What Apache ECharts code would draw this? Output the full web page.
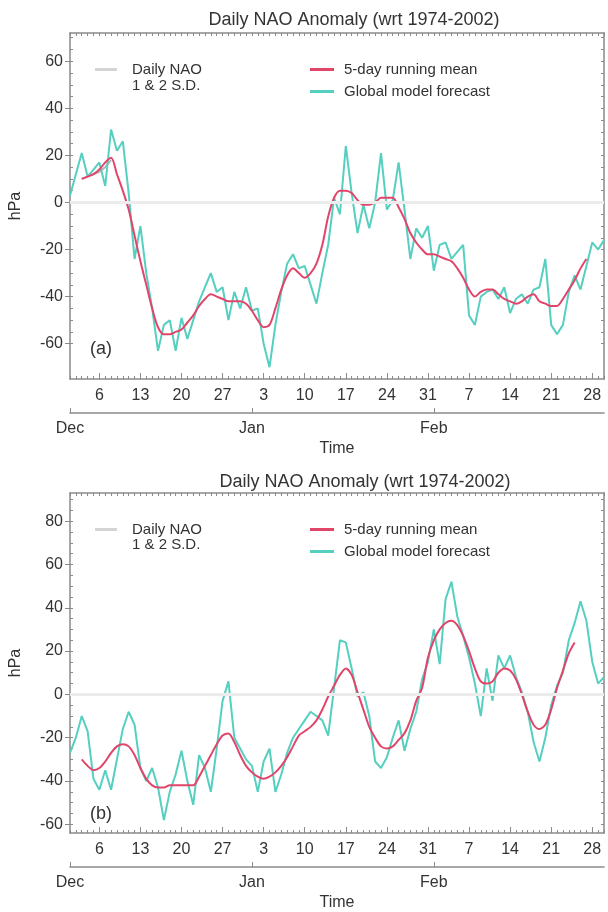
<!DOCTYPE html>
<html lang="en">
<head>
    <meta charset="UTF-8">
    <title>Daily NAO Anomaly</title>
    <script src="https://cdn.jsdelivr.net/npm/echarts@6.0.0/dist/echarts.min.js"></script>
    <style>
        body { margin: 0; padding: 0; background: #fff; }
        #chart { width: 608px; height: 912px; }
    </style>
</head>
<body>
    <div id="chart"></div>
    <script>
        // days from 1 Dec to 2 Mar
        const months = [['Dec', 31], ['Jan', 31], ['Feb', 28], ['Mar', 2]];
        const monthNames = ['Dec', 'Jan', 'Feb'];
        const yTicksA = [-60, -40, -20, 0, 20, 40, 60];
        const yTicksB = [-60, -40, -20, 0, 20, 40, 60, 80];

        // panel (a)
        const obsA = [null, null, 10, 11, 12, 13, 15, 18, null, null,
            null, null, null, null, null, null, null, null, null, null,
            null, null, null, null, null, null, null, null, null, null,
            null, null, null, null, null, null, null, null, null, null,
            null, null, null, null, null, null, null, null, null, null,
            null, null, null, null, null, null, null, null, null, null,
            null, null, null, null, null, null, null, null, null, null,
            null, null, null, null, null, null, null, null, null, null,
            null, null, null, null, null, null, null, null, null, null,
            null, null];
        const forecastA = [3, 12, 21, 11, 14, 17, 7, 31, 22, 26,
            4, -24, -10, -30, -45, -63, -52, -50, -63, -49,
            -58, -50, -42, -36, -30, -38, -36, -50, -38, -45,
            -36, -46, -45, -60, -70, -52, -38, -26, -22, -28,
            -27, -35, -43, -30, -18, 2, -5, 24, 4, -13,
            -1, -11, 0, 21, -3, 1, 17, -3, -24, -11,
            -15, -10, -29, -18, -17, -24, -21, -18, -48, -52,
            -40, -38, -37, -41, -36, -47, -41, -39, -43, -37,
            -36, -24, -52, -56, -52, -38, -31, -37, -27, -17,
            -20, -16];
        const meanA = [null, null, 10, 11, 12, 14, 17, 19, 12, 5,
            -3, -14, -25, -35, -45, -53, -56, -56, -55, -54,
            -51, -48, -44, -41, -39, -40, -41, -42, -42, -42,
            -43, -46, -50, -53, -52, -45, -37, -31, -28, -30,
            -32, -30, -26, -18, -6, 2, 5, 5, 4, 1,
            -1, -1, 0, 2, 2, 2, -2, -7, -13, -17,
            -20, -22, -22, -23, -24, -25, -28, -32, -37, -40,
            -38, -37, -37, -39, -41, -42, -43, -42, -40, -39,
            -42, -43, -44, -44, -41, -37, -33, -28, -24, null,
            null, null];

        // panel (b)
        const obsB = [];
        const forecastB = [-27, -20, -10, -17, -39, -44, -35, -44, -30, -16,
            -8, -14, -34, -40, -34, -43, -58, -45, -37, -26,
            -40, -51, -28, -34, -45, -25, -3, 6, -20, -25,
            -30, -33, -45, -31, -25, -45, -37, -27, -20, -16,
            -12, -8, -10, -12, -19, 3, 25, 24, 12, -1,
            1, -10, -31, -34, -29, -20, -12, -26, -16, -8,
            7, 15, 30, 14, 44, 52, 36, 27, 17, 5,
            -10, 12, -3, 18, 12, 18, 8, 1, -8, -22,
            -31, -20, -5, 4, 10, 25, 33, 43, 34, 15,
            5, 8];
        const meanB = [null, null, -30, -33, -35, -34, -31, -27, -24, -23,
            -24, -28, -34, -39, -42, -43, -43, -42, -42, -42,
            -42, -42, -38, -33, -28, -23, -19, -18, -22, -28,
            -33, -36, -38, -39, -38, -36, -33, -29, -24, -19,
            -17, -15, -12, -7, -1, 4, 9, 12, 9, 1,
            -7, -15, -20, -24, -25, -24, -21, -18, -12, -3,
            3, 17, 25, 30, 33, 34, 32, 27, 20, 12,
            6, 5, 6, 10, 12, 11, 7, 0, -8, -14,
            -16, -14, -7, 3, 11, 19, 24, null, null, null,
            null, null];

        const days = [];
        const monthStart = [];
        months.forEach(([m, n]) => {
            monthStart.push(days.length);
            for (let d = 1; d <= n; d++) days.push(m + ' ' + d);
        });

        const isWeek = (i) => (i - 5) % 7 === 0;
        const isMonth = (i) => monthStart.indexOf(i) >= 0 && i < 80;
        const every5 = (lo, hi) => { const a = []; for (let v = lo; v <= hi; v += 5) a.push(v); return a; };

        const axisColor = '#8a8a8a';
        const textColor = '#333';
        const font = 'Liberation Sans, Arial, sans-serif';
        const redColor = '#e2456a';
        const cyanColor = '#55cfc0';
        const greyColor = '#d4d4d4';

        const panels = [
            { top: 33, height: 346, min: -75, max: 72, ticks: yTicksA, obs: obsA, fc: forecastA, mean: meanA },
            { top: 493, height: 344, min: -64, max: 93, ticks: yTicksB, obs: obsB, fc: forecastB, mean: meanB }
        ];

        const grid = [], xAxis = [], yAxis = [], series = [];
        panels.forEach((p, g) => {
            grid.push({ left: 67, right: 4, top: p.top, height: p.height });
            const base = { type: 'category', gridIndex: g, data: days, boundaryGap: false };
            const line = { onZero: false, lineStyle: { color: axisColor, width: 1.5 } };
            // bottom, daily ticks + week labels
            xAxis.push(Object.assign({}, base, {
                position: 'bottom',
                axisLine: line,
                axisTick: { interval: 0, inside: true, length: 3, lineStyle: { color: axisColor } },
                axisLabel: {
                    interval: (i) => isWeek(i), margin: 9, fontSize: 16, color: textColor, fontFamily: font,
                    formatter: (v) => v.split(' ')[1]
                }
            }));
            // top frame
            xAxis.push(Object.assign({}, base, {
                position: 'top',
                axisLine: line,
                axisTick: { interval: 0, inside: true, length: 3, lineStyle: { color: axisColor } },
                axisLabel: { show: false }
            }));
            // longer weekly ticks
            xAxis.push(Object.assign({}, base, {
                position: 'bottom',
                axisLine: { show: false, onZero: false },
                axisTick: { interval: (i) => isWeek(i), inside: true, length: 6, lineStyle: { color: axisColor } },
                axisLabel: { show: false }
            }));
            // month axis
            xAxis.push(Object.assign({}, base, {
                position: 'bottom', offset: 34,
                axisLine: line,
                axisTick: { interval: (i) => isMonth(i), inside: true, length: 5, lineStyle: { color: axisColor } },
                axisLabel: {
                    interval: (i) => isMonth(i), margin: 8, fontSize: 16, color: textColor, fontFamily: font,
                    formatter: (v) => monthNames.indexOf(v.split(' ')[0]) >= 0 && v.split(' ')[1] === '1' ? v.split(' ')[0] : ''
                },
                name: 'Time', nameLocation: 'middle', nameGap: 28,
                nameTextStyle: { fontSize: 16, color: textColor, fontFamily: font }
            }));

            yAxis.push({
                type: 'value', gridIndex: g, min: p.min, max: p.max, position: 'left',
                splitLine: { show: false },
                axisLine: { show: true, onZero: false, lineStyle: { color: axisColor, width: 1.5 } },
                axisTick: { show: true, customValues: p.ticks, length: 5, lineStyle: { color: axisColor } },
                axisLabel: { customValues: p.ticks, margin: 7, fontSize: 16, color: textColor, fontFamily: font },
                name: 'hPa', nameLocation: 'middle', nameGap: 46, nameRotate: 90,
                nameTextStyle: { fontSize: 16, color: textColor, fontFamily: font }
            });
            yAxis.push({
                type: 'value', gridIndex: g, min: p.min, max: p.max, position: 'left',
                splitLine: { show: false }, axisLine: { show: false, onZero: false }, axisLabel: { show: false },
                axisTick: { show: true, inside: true, customValues: every5(-60, 90), length: 3, lineStyle: { color: axisColor } }
            });
            yAxis.push({
                type: 'value', gridIndex: g, min: p.min, max: p.max, position: 'right',
                splitLine: { show: false }, axisLabel: { show: false },
                axisLine: { show: true, onZero: false, lineStyle: { color: axisColor, width: 1.5 } },
                axisTick: { show: true, inside: true, customValues: every5(-60, 90), length: 3, lineStyle: { color: axisColor } }
            });

            const xi = g * 4, yi = g * 3;
            series.push({
                name: 'Daily NAO', type: 'line', xAxisIndex: xi, yAxisIndex: yi, data: p.obs,
                symbol: 'none', z: 1, lineStyle: { color: '#b5b5b5', width: 2 }, itemStyle: { color: greyColor },
                markLine: {
                    silent: true, symbol: 'none', label: { show: false },
                    lineStyle: { color: '#ececec', width: 3, type: 'solid' },
                    data: [{ yAxis: 0 }]
                }
            });
            series.push({
                name: 'Global model forecast', type: 'line', xAxisIndex: xi, yAxisIndex: yi, data: p.fc,
                symbol: 'none', z: 2, lineStyle: { color: cyanColor, width: 2 }, itemStyle: { color: cyanColor }
            });
            series.push({
                name: '5-day running mean', type: 'line', xAxisIndex: xi, yAxisIndex: yi, data: p.mean,
                symbol: 'none', z: 3, smooth: 0.3, lineStyle: { color: redColor, width: 2 }, itemStyle: { color: redColor }
            });
        });

        const legendText = { fontSize: 15, color: textColor, fontFamily: font, padding: [0, 0, 0, 5] };
        const legend = [];
        [{ top: 57 }, { top: 517 }].forEach((l) => {
            legend.push({
                data: [
                    { name: '5-day running mean', icon: 'rect', itemStyle: { color: redColor } },
                    { name: 'Global model forecast', icon: 'rect', itemStyle: { color: cyanColor } }
                ],
                orient: 'vertical', left: 305, top: l.top, itemWidth: 24, itemHeight: 3, itemGap: 7,
                selectedMode: false, textStyle: legendText
            });
            legend.push({
                data: [{ name: 'Daily NAO', icon: 'rect', itemStyle: { color: greyColor } }],
                left: 90, top: l.top, itemWidth: 22, itemHeight: 3,
                selectedMode: false, textStyle: Object.assign({}, legendText, { padding: [0, 0, 0, 10] })
            });
        });

        const title = [
            { text: 'Daily NAO Anomaly (wrt 1974-2002)', left: 349, top: 6, textAlign: 'center',
              textStyle: { fontSize: 18, fontWeight: 'normal', color: textColor, fontFamily: font } },
            { text: 'Daily NAO Anomaly (wrt 1974-2002)', left: 360, top: 468, textAlign: 'center',
              textStyle: { fontSize: 18, fontWeight: 'normal', color: textColor, fontFamily: font } }
        ];

        const txt = (t, x, y, size) => ({
            type: 'text', left: x, top: y,
            style: { text: t, fontSize: size, fill: textColor, fontFamily: font }
        });
        const graphic = [
            txt('1 & 2 S.D.', 132, 78, 15),
            txt('1 & 2 S.D.', 132, 537, 15),
            txt('(a)', 90, 340, 18),
            txt('(b)', 90, 805, 18)
        ];

        const chart = echarts.init(document.getElementById('chart'));
        chart.setOption({
            backgroundColor: '#fff',
            animation: false,
            title: title,
            legend: legend,
            grid: grid,
            xAxis: xAxis,
            yAxis: yAxis,
            graphic: graphic,
            series: series
        });
    </script>
</body>
</html>
